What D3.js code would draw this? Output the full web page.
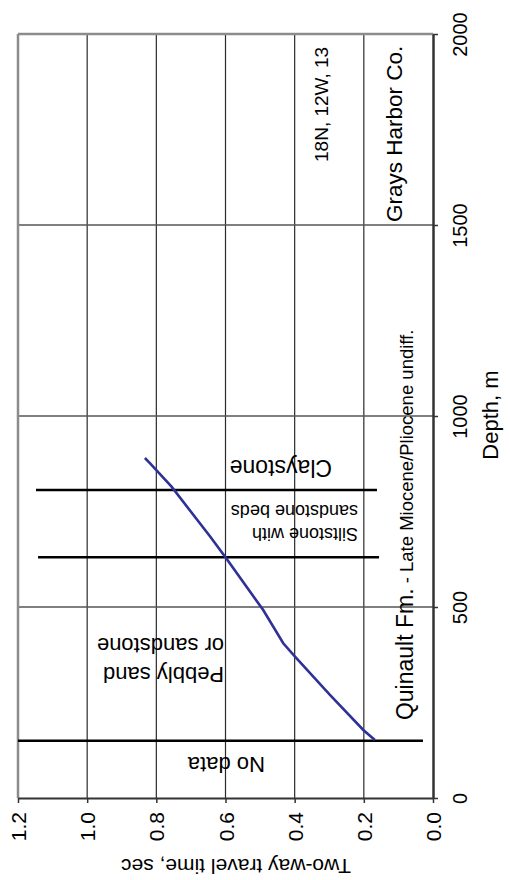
<!DOCTYPE html>
<html>
<head>
<meta charset="utf-8">
<script src="https://cdn.jsdelivr.net/npm/d3@7/dist/d3.min.js"></script>
<style>
  html, body { margin: 0; padding: 0; background: #fff; }
  svg { display: block; }
  text { font-family: "Liberation Sans", Arial, Helvetica, sans-serif; fill: #000; }
</style>
</head>
<body>
<svg id="chart" width="510" height="880"></svg>
<script>
// ---- data ----
const depthTicks = [0, 500, 1000, 1500, 2000];
const twtTicks = [0, 0.2, 0.4, 0.6, 0.8, 1.0, 1.2];

// time-depth curve (depth m, two-way time s)
const curveDepth = [152, 178, 270, 370, 405, 492, 629, 685, 815, 876, 890];
const curveTwt   = [0.168, 0.2015, 0.298, 0.399, 0.433, 0.491, 0.599, 0.645, 0.756, 0.818, 0.833];

// lithology boundaries (depth m) and their extent in two-way time
const boundaryDepth   = [150, 630, 806];
const boundaryTwtFrom = [1.2, 1.142, 1.148];
const boundaryTwtTo   = [0.029, 0.156, 0.162];

// unit labels
const unitLabels = ["No data", "Pebbly sand", "or sandstone", "Siltstone with", "sandstone beds", "Claystone"];
const unitLabelTwt = [0.486, 0.604, 0.604, 0.217, 0.217, 0.292];
const unitLabelDepth = [107, 343, 419, 707, 767, 885];

const W = 510, H = 880;
const svg = d3.select("#chart");

const x = d3.scaleLinear().domain([0, 1.2]).range([433, 18]);   // two-way time (horizontal, reversed)
const y = d3.scaleLinear().domain([0, 2000]).range([798, 34]);  // depth (vertical)

// grid
svg.append("g").selectAll("line.vg").data(twtTicks.slice(1, -1)).join("line")
  .attr("x1", d => x(d)).attr("x2", d => x(d)).attr("y1", y(2000)).attr("y2", y(0))
  .attr("stroke", "#2a2a2a").attr("stroke-width", 1.2);
svg.append("g").selectAll("line.hg").data(depthTicks.slice(1, -1)).join("line")
  .attr("x1", x(1.2)).attr("x2", x(0)).attr("y1", d => y(d)).attr("y2", d => y(d))
  .attr("stroke", "#555").attr("stroke-width", 1.5);

// frame: top & left (grey)
svg.append("line").attr("x1", x(1.2)).attr("x2", x(0)).attr("y1", y(2000)).attr("y2", y(2000))
  .attr("stroke", "#8c8c8c").attr("stroke-width", 2.5);
svg.append("line").attr("x1", x(1.2)).attr("x2", x(1.2)).attr("y1", y(2000)).attr("y2", y(0))
  .attr("stroke", "#8c8c8c").attr("stroke-width", 2.5);

// bottom axis: two-way time
const gx = svg.append("g").attr("transform", `translate(0,${y(0)})`)
  .call(d3.axisBottom(x).tickValues(twtTicks).tickFormat(d3.format(".1f")).tickSize(5).tickSizeOuter(0));
gx.select(".domain").attr("stroke", "#333").attr("stroke-width", 2);
gx.selectAll(".tick line").attr("stroke", "#333").attr("stroke-width", 1.5);
gx.selectAll(".tick text")
  .attr("transform", "rotate(-90)")
  .attr("x", -14).attr("y", 0).attr("dy", "0.36em")
  .attr("text-anchor", "end")
  .style("font-size", "21px");

// right axis: depth
const gy = svg.append("g").attr("transform", `translate(${x(0)},0)`)
  .call(d3.axisRight(y).tickValues(depthTicks).tickFormat(d3.format("d")).tickSize(5).tickSizeOuter(0));
gy.select(".domain").attr("stroke", "#333").attr("stroke-width", 2.5);
gy.selectAll(".tick line").attr("stroke", "#333").attr("stroke-width", 1.5);
gy.selectAll(".tick text")
  .attr("transform", "rotate(-90)")
  .attr("x", 0).attr("y", 27).attr("dy", "0.36em")
  .attr("text-anchor", "middle")
  .style("font-size", "20px");

// axis titles
svg.append("text")
  .attr("transform", `translate(236,859) rotate(180)`)
  .attr("text-anchor", "middle").style("font-size", "21px")
  .text("Two-way travel time, sec");
svg.append("text")
  .attr("transform", `translate(498,415) rotate(-90)`)
  .attr("text-anchor", "middle").style("font-size", "22px")
  .text("Depth, m");

// lithology boundaries
svg.append("g").selectAll("line").data(boundaryDepth).join("line")
  .attr("x1", (d, i) => x(boundaryTwtFrom[i])).attr("x2", (d, i) => x(boundaryTwtTo[i]))
  .attr("y1", d => y(d)).attr("y2", d => y(d))
  .attr("stroke", "#000").attr("stroke-width", 2.5);

// curve
const pts = curveDepth.map((d, i) => [curveTwt[i], d]);
svg.append("path").datum(pts)
  .attr("fill", "none").attr("stroke", "#2e3196").attr("stroke-width", 2.6)
  .attr("d", d3.line().x(d => x(d[0])).y(d => y(d[1])));

// unit labels (upside down)
const unitSizes = [22, 22, 22, 18, 18, 23];
svg.append("g").selectAll("text").data(unitLabels).join("text")
  .attr("transform", (d, i) => `translate(${x(unitLabelTwt[i])},${y(unitLabelDepth[i])}) rotate(180)`)
  .attr("text-anchor", "start")
  .style("font-size", (d, i) => unitSizes[i] + "px")
  .text(d => d);

// formation label
const fm = svg.append("text")
  .attr("transform", `translate(${x(0.058)},${y(204)}) rotate(-90)`)
  .attr("text-anchor", "start");
fm.append("tspan").style("font-size", "23px").text("Quinault Fm.");
fm.append("tspan").style("font-size", "18.5px").text(" - Late Miocene/Pliocene undiff.");

// location labels
svg.append("text")
  .attr("transform", `translate(${x(0.09)},${y(1508)}) rotate(-90)`)
  .style("font-size", "22.5px").text("Grays Harbor Co.");
svg.append("text")
  .attr("transform", `translate(${x(0.305)},${y(1665)}) rotate(-90)`)
  .style("font-size", "19px").text("18N, 12W, 13");
</script>
</body>
</html>
